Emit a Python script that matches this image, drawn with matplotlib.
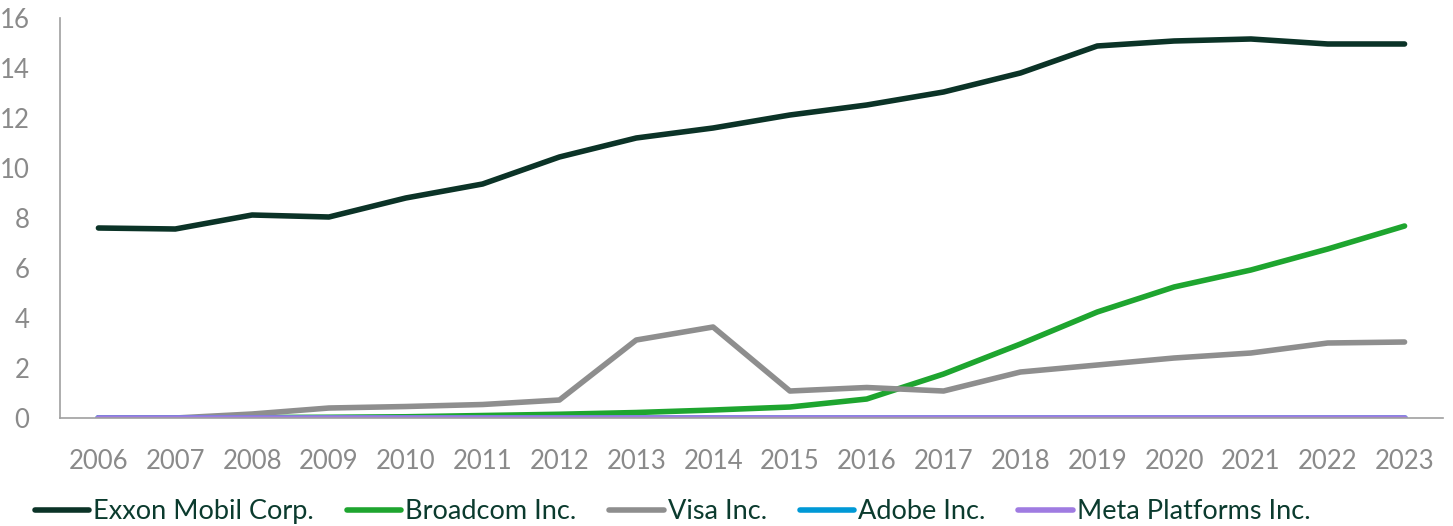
import matplotlib.pyplot as plt
import numpy as np

plt.rcParams['font.family'] = ['Lato', 'DejaVu Sans']

years = [str(y) for y in range(2006, 2024)]
exxon = [7.6, 7.56, 8.12, 8.04, 8.8, 9.36, 10.44, 11.2, 11.6, 12.12, 12.52, 13.04,
         13.8, 14.88, 15.08, 15.16, 14.96, 14.96]
broadcom = [0.0, 0.0, 0.02, 0.03, 0.05, 0.1, 0.15, 0.22, 0.32, 0.44, 0.76, 1.76,
            2.96, 4.24, 5.24, 5.92, 6.76, 7.68]
visa = [0.0, 0.0, 0.16, 0.4, 0.46, 0.54, 0.72, 3.12, 3.64, 1.08, 1.22, 1.08,
        1.84, 2.12, 2.4, 2.6, 3.0, 3.04]
adobe = [0.0] * 18
meta = [0.0] * 18

series = [
    ('Exxon Mobil Corp.', exxon, '#0b3327'),
    ('Broadcom Inc.', broadcom, '#1ea52f'),
    ('Visa Inc.', visa, '#8e8e8e'),
    ('Adobe Inc.', adobe, '#0099d6'),
    ('Meta Platforms Inc.', meta, '#9f7be1'),
]

fig = plt.figure(figsize=(14.53, 5.26), dpi=100)
ax = fig.add_axes([0.0413, 0.2053, 0.9518, 0.7605])

x = np.arange(len(years))
for name, vals, col in series:
    ax.plot(x, vals, color=col, lw=4, label=name, solid_capstyle='round', solid_joinstyle='round')

ax.set_xlim(-0.5, len(years) - 0.5)
ax.set_ylim(0, 16)
ax.set_yticks(range(0, 17, 2))
ax.set_xticks(x)
ax.set_xticklabels(years)
ax.tick_params(axis='both', length=0, labelsize=18.5, labelcolor='#8a8a8a')
ax.tick_params(axis='x', pad=22)
ax.tick_params(axis='y', pad=22)
for s in ['top', 'right']:
    ax.spines[s].set_visible(False)
for s in ['left', 'bottom']:
    ax.spines[s].set_color('#a0a0a0')
    ax.spines[s].set_linewidth(1.2)

leg = fig.legend(loc='center left', bbox_to_anchor=(0.024, 0.027), ncol=5, frameon=False,
                 fontsize=19.5, handlelength=2.0, handletextpad=0.15, columnspacing=1.22,
                 borderaxespad=0, borderpad=0)
for t in leg.get_texts():
    t.set_color('#0b3b2e')

fig.savefig('out.png', dpi=100)
